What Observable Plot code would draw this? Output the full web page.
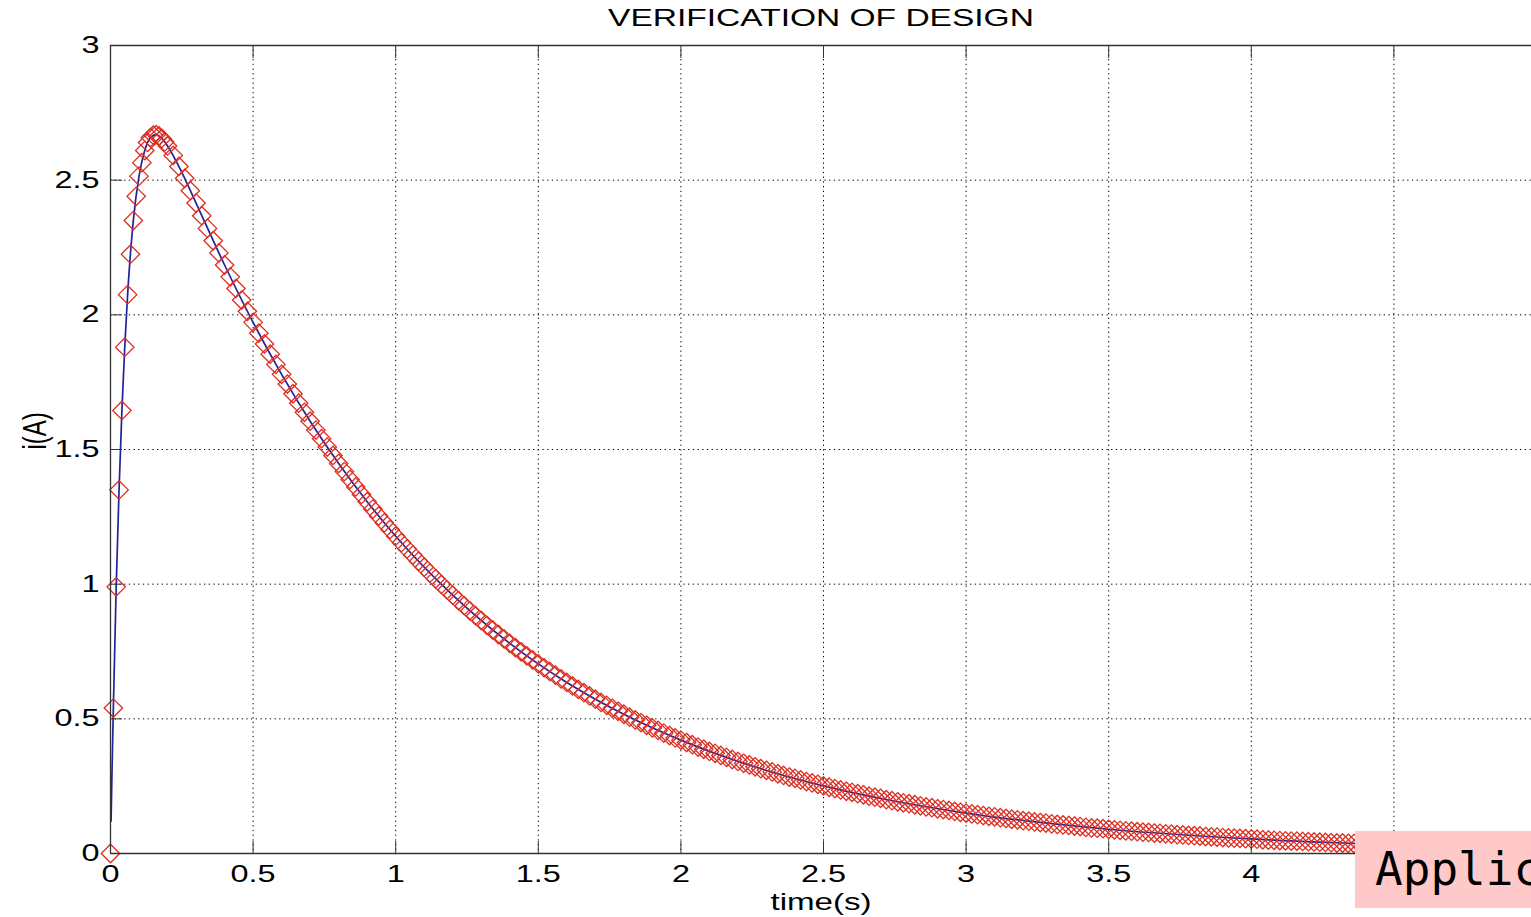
<!DOCTYPE html>
<html><head><meta charset="utf-8">
<script src="https://cdn.jsdelivr.net/npm/d3@7"></script>
<script src="https://cdn.jsdelivr.net/npm/@observablehq/plot@0.6"></script>
<style>
html,body{margin:0;padding:0;background:#fff;overflow:hidden;}
#wrap{position:relative;width:1531px;height:917px;overflow:hidden;}
#note{position:absolute;left:1355px;top:831px;width:200px;height:77px;background:#ffc9c9;font-family:"DejaVu Sans Mono",monospace;font-size:46px;line-height:77px;padding-left:20px;color:#000;white-space:nowrap;overflow:hidden;box-sizing:border-box;}
</style></head><body><div id="wrap"><div id="note">Applic</div></div>
<script>
const title = "VERIFICATION OF DESIGN";
const xLabel = "time(s)";
const yLabel = "i(A)";
const xTicks = [0,0.5,1,1.5,2,2.5,3,3.5,4,4.5,5];
const xTickLabels = [0,0.5,1,1.5,2,2.5,3,3.5,4];   // 4.5 and 5 lie under the note box / off the edge
const yTicks = [0,0.5,1,1.5,2,2.5,3];

// simulated samples (red diamonds)
const time = [
0,0.01,0.02,0.03,0.04,0.05,0.06,0.07,0.08,0.09,0.1,0.11,0.12,0.13,0.14,0.15,0.16,0.17,0.18,0.19,0.2,
0.22,0.24,0.26,0.28,0.3,0.32,0.34,0.36,0.38,0.4,
0.42,0.44,0.46,0.48,0.5,0.52,0.54,0.56,0.58,0.6,
0.62,0.64,0.66,0.68,0.7,0.72,0.74,0.76,0.78,0.8,
0.82,0.84,0.86,0.88,0.9,0.92,0.94,0.96,0.98,1.0,
1.02,1.04,1.06,1.08,1.1,1.12,1.14,1.16,1.18,1.2,
1.22,1.24,1.26,1.28,1.3,1.32,1.34,1.36,1.38,1.4,
1.42,1.44,1.46,1.48,1.5,1.52,1.54,1.56,1.58,1.6,
1.62,1.64,1.66,1.68,1.7,1.72,1.74,1.76,1.78,1.8,
1.82,1.84,1.86,1.88,1.9,1.92,1.94,1.96,1.98,2.0,
2.02,2.04,2.06,2.08,2.1,2.12,2.14,2.16,2.18,2.2,
2.22,2.24,2.26,2.28,2.3,2.32,2.34,2.36,2.38,2.4,
2.42,2.44,2.46,2.48,2.5,2.52,2.54,2.56,2.58,2.6,
2.62,2.64,2.66,2.68,2.7,2.72,2.74,2.76,2.78,2.8,
2.82,2.84,2.86,2.88,2.9,2.92,2.94,2.96,2.98,3.0,
3.02,3.04,3.06,3.08,3.1,3.12,3.14,3.16,3.18,3.2,
3.22,3.24,3.26,3.28,3.3,3.32,3.34,3.36,3.38,3.4,
3.42,3.44,3.46,3.48,3.5,3.52,3.54,3.56,3.58,3.6,
3.62,3.64,3.66,3.68,3.7,3.72,3.74,3.76,3.78,3.8,
3.82,3.84,3.86,3.88,3.9,3.92,3.94,3.96,3.98,4.0,
4.02,4.04,4.06,4.08,4.1,4.12,4.14,4.16,4.18,4.2,
4.22,4.24,4.26,4.28,4.3,4.32,4.34,4.36,4.38,4.4,
4.42,4.44,4.46,4.48,4.5,4.52,4.54,4.56,4.58,4.6,
4.62,4.64,4.66,4.68,4.7,4.72,4.74,4.76,4.78,4.8,
4.82,4.84,4.86,4.88,4.9,4.92,4.94,4.96,4.98,5.0
];
const current = [
0,0.54,0.99,1.35,1.645,1.88,2.075,2.225,2.35,2.44,2.515,2.565,2.61,2.64,2.658,2.667,2.669,2.664,2.655,2.642,2.627,
2.592,2.551,2.507,2.461,2.415,2.368,2.321,2.275,2.230,2.185,
2.141,2.098,2.055,2.013,1.972,1.932,1.892,1.854,1.816,1.779,
1.743,1.707,1.672,1.638,1.605,1.572,1.540,1.509,1.478,1.448,
1.418,1.389,1.361,1.333,1.306,1.279,1.253,1.228,1.203,1.178,
1.154,1.131,1.108,1.085,1.063,1.041,1.020,0.999,0.979,0.959,
0.939,0.920,0.901,0.883,0.865,0.847,0.830,0.813,0.797,0.780,
0.764,0.749,0.734,0.719,0.704,0.690,0.676,0.662,0.648,0.635,
0.622,0.609,0.597,0.585,0.573,0.561,0.550,0.539,0.528,0.517,
0.506,0.496,0.486,0.476,0.466,0.457,0.447,0.438,0.429,0.421,
0.412,0.404,0.395,0.387,0.379,0.372,0.364,0.357,0.349,0.342,
0.335,0.329,0.322,0.315,0.309,0.303,0.296,0.290,0.284,0.279,
0.273,0.267,0.262,0.257,0.251,0.246,0.241,0.236,0.231,0.227,
0.222,0.218,0.213,0.209,0.205,0.200,0.196,0.192,0.188,0.185,
0.181,0.177,0.173,0.170,0.166,0.163,0.160,0.156,0.153,0.150,
0.147,0.144,0.141,0.138,0.136,0.133,0.130,0.127,0.125,0.122,
0.120,0.117,0.115,0.113,0.110,0.108,0.106,0.104,0.102,0.100,
0.097,0.095,0.094,0.092,0.090,0.088,0.086,0.084,0.083,0.081,
0.079,0.078,0.076,0.075,0.073,0.072,0.070,0.069,0.067,0.066,
0.065,0.063,0.062,0.061,0.059,0.058,0.057,0.056,0.055,0.054,
0.053,0.051,0.050,0.049,0.048,0.047,0.046,0.046,0.045,0.044,
0.043,0.042,0.041,0.040,0.039,0.039,0.038,0.037,0.036,0.036,
0.035,0.034,0.033,0.033,0.032,0.031,0.031,0.030,0.029,0.029,
0.028,0.028,0.027,0.027,0.026,0.026,0.025,0.025,0.024,0.024,
0.023,0.023,0.022,0.022,0.021,0.021,0.020,0.020,0.020,0.019
];

// design curve (blue line)
const lineTime = [0.002,0.005,0.01,0.02,0.03,0.04,0.05,0.06,0.08,0.1,0.12,0.14,0.16,0.18,0.2,0.25,0.3,0.4,0.5,0.6,0.7,0.8,0.9,1.0,1.2,1.4,1.6,1.8,2.0,2.25,2.5,2.75,3.0,3.5,4.0,4.5,5.0];
const lineCurrent = [0.12,0.29,0.54,0.99,1.35,1.645,1.88,2.075,2.35,2.515,2.61,2.658,2.669,2.655,2.627,2.529,2.415,2.185,1.972,1.779,1.605,1.448,1.306,1.178,0.959,0.780,0.635,0.517,0.421,0.325,0.251,0.194,0.150,0.090,0.054,0.032,0.019];

const markers = time.map((t, k) => ({t, i: current[k]}));
const curveData = lineTime.map((t, k) => ({t, i: lineCurrent[k]}));

const font = "'Liberation Sans', Arial, Helvetica, sans-serif";
const axisColor = "#333";
const gridStyle = {stroke: "#000", strokeOpacity: 1, strokeWidth: 1, strokeDasharray: "1.3,3.4"};

const chart = Plot.plot({
  width: 1531, height: 917,
  marginLeft: 110, marginTop: 45, marginBottom: 64, marginRight: 0,
  style: {fontFamily: font, fontSize: "23.5px", color: "#000", background: "#fff"},
  x: {domain: [0, 5], range: [110, 1536], label: null},
  y: {domain: [0, 3], range: [853, 45], label: null},
  marks: [
    Plot.gridX(xTicks, gridStyle),
    Plot.gridY(yTicks, gridStyle),
    Plot.line(curveData, {x: "t", y: "i", stroke: "#22229a", strokeWidth: 1.7, curve: "monotone-x"}),
    Plot.dot(markers, {x: "t", y: "i", symbol: "diamond2", r: 8.3, stroke: "#dc2e22", strokeWidth: 1.3, fill: "none"}),
    Plot.ruleX([0, 5], {stroke: axisColor, strokeWidth: 1.3}),
    Plot.ruleY([0, 3], {stroke: axisColor, strokeWidth: 1.3}),
    Plot.axisX(xTicks, {anchor: "bottom", tickSize: -12, fill: "none", stroke: axisColor, label: null}),
    Plot.axisX(xTickLabels, {anchor: "bottom", tickSize: 0, tickPadding: 12, tickFormat: "~g", fill: "#000", label: null}),
    Plot.axisX(xTicks, {anchor: "top", tickSize: -12, fill: "none", stroke: axisColor, label: null}),
    Plot.axisY(yTicks, {anchor: "left", tickSize: -12, tickPadding: 23, tickFormat: "~g", stroke: axisColor, fill: "#000", label: null}),
    Plot.text([title], {frameAnchor: "top", dy: -27, lineAnchor: "middle", fontSize: 24.3, fill: "#000"}),
    Plot.text([xLabel], {frameAnchor: "bottom", dy: 49, lineAnchor: "middle", fontSize: 24, fill: "#000"}),
    Plot.text([yLabel], {frameAnchor: "left", dx: -75, rotate: -90, lineAnchor: "middle", fontSize: 24, fill: "#000"})
  ]
});

const wrap = document.getElementById("wrap");
wrap.insertBefore(chart, wrap.firstChild);
// the reference figure is stretched horizontally; stretch the text likewise
chart.querySelectorAll("text").forEach(el => {
  const tr = el.getAttribute("transform") || "";
  if (tr.includes("rotate")) el.setAttribute("transform", tr + " scale(1,1.38)");
  else el.setAttribute("transform", tr + " scale(1.38,1)");
});
</script>
</body></html>
